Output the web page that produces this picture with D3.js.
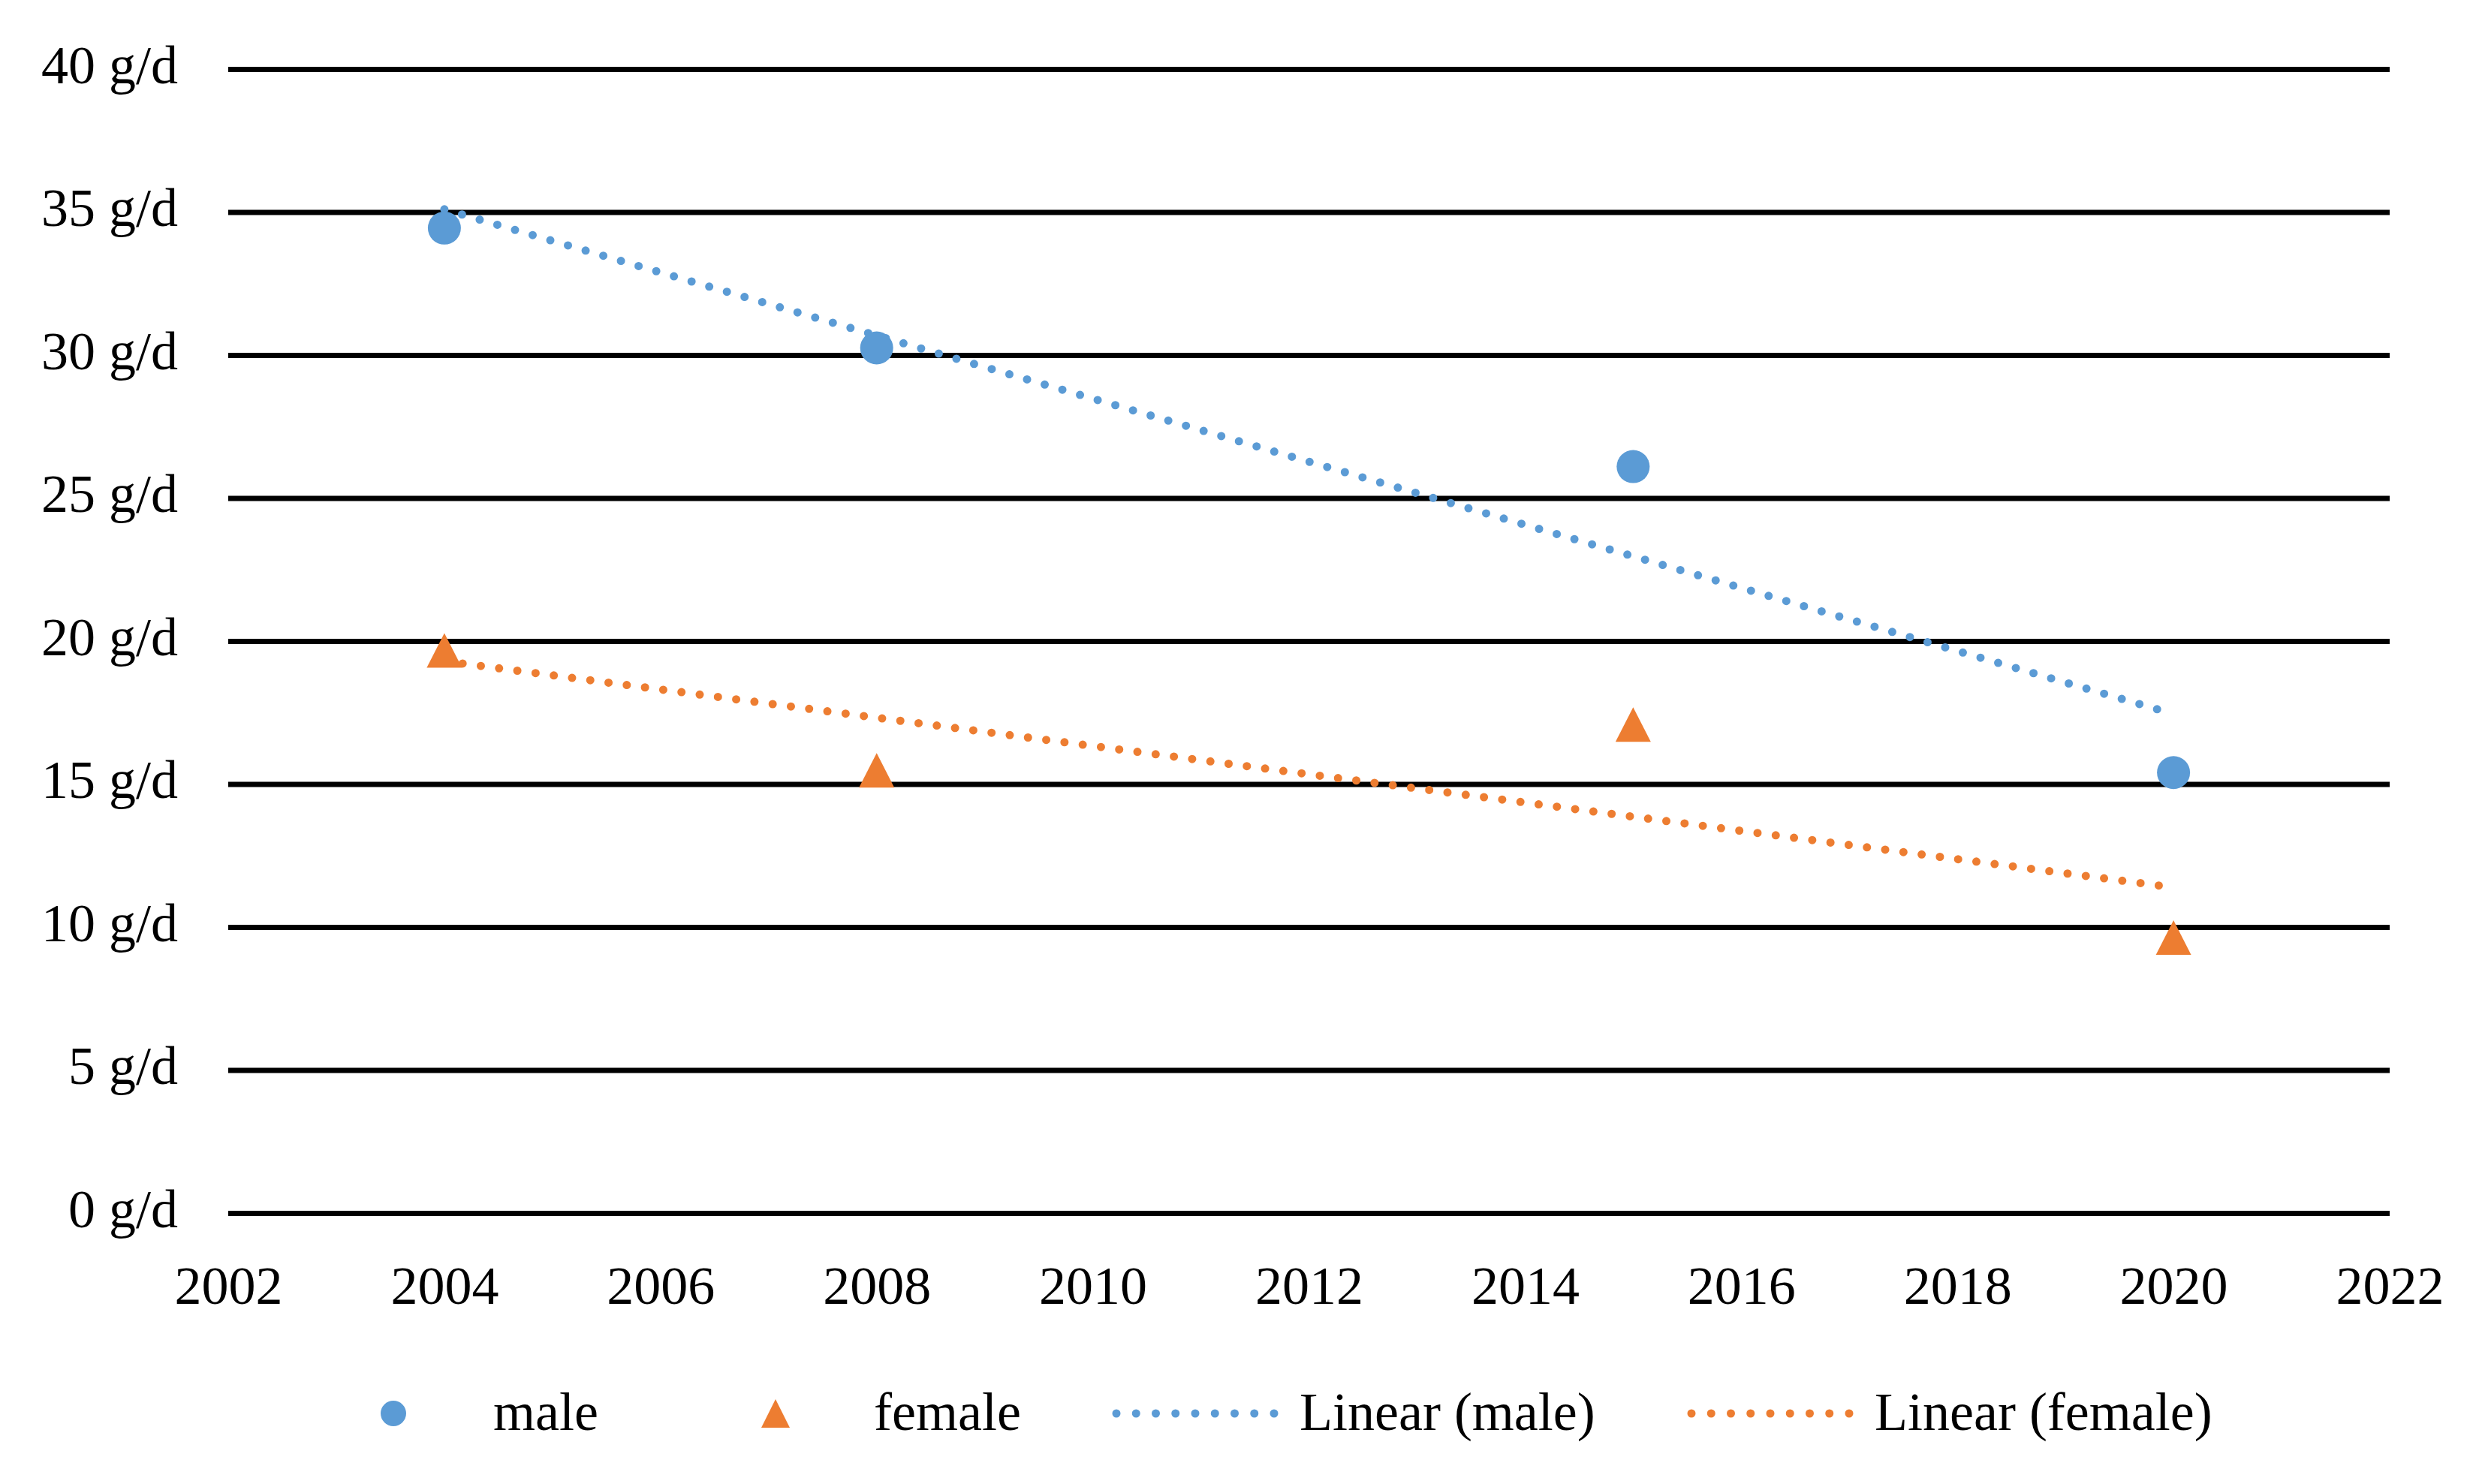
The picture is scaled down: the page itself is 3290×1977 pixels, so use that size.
<!DOCTYPE html>
<html>
<head>
<meta charset="utf-8">
<script src="https://cdn.jsdelivr.net/npm/d3@7"></script>
<style>
  html, body { margin: 0; padding: 0; background: #fff; }
  svg { display: block; }
  text { font-family: "Liberation Serif", "DejaVu Serif", serif; fill: #000; }
</style>
</head>
<body>
<svg id="chart" width="3290" height="1977"></svg>
<script>
// ---- data ----
const years = [2004, 2008, 2015, 2020];
const maleValues = [34.44, 30.25, 26.1, 15.4];
const femaleValues = [19.67, 15.48, 17.08, 9.63];
const yTicks = [0, 5, 10, 15, 20, 25, 30, 35, 40];
const xTicks = [2002, 2004, 2006, 2008, 2010, 2012, 2014, 2016, 2018, 2020, 2022];
const legendLabels = ["male", "female", "Linear (male)", "Linear (female)"];

const blue = "#5B9BD5", orange = "#ED7D31";

const svg = d3.select("#chart");
const x = d3.scaleLinear().domain([2002, 2022]).range([304, 3183]);
const y = d3.scaleLinear().domain([0, 40]).range([1616, 92]);

// gridlines + y labels
const yAxis = d3.axisLeft(y).tickValues(yTicks)
  .tickSizeInner(-(x.range()[1] - x.range()[0])).tickSizeOuter(0)
  .tickPadding(67).tickFormat(d => d + " g/d");
const gy = svg.append("g").attr("transform", `translate(${x.range()[0]},0)`).call(yAxis);
gy.select(".domain").remove();
gy.selectAll(".tick line").attr("stroke", "#000").attr("stroke-width", 7);
gy.selectAll(".tick text").style("font-size", "72px").attr("fill", "#000")
  .style("font-family", '"Liberation Serif", serif').attr("dy", "0.25em");

// x labels
const xAxis = d3.axisBottom(x).tickValues(xTicks).tickSize(0).tickPadding(70)
  .tickFormat(d3.format("d"));
const gx = svg.append("g").attr("transform", `translate(0,${y(0)})`).call(xAxis);
gx.select(".domain").remove();
gx.selectAll(".tick text").style("font-size", "72px").attr("fill", "#000")
  .style("font-family", '"Liberation Serif", serif');

// regression
function linreg(xs, ys) {
  const n = xs.length, mx = d3.mean(xs), my = d3.mean(ys);
  let sxy = 0, sxx = 0;
  for (let i = 0; i < n; i++) { sxy += (xs[i]-mx)*(ys[i]-my); sxx += (xs[i]-mx)**2; }
  const b = sxy / sxx; return t => my + b * (t - mx);
}
const fm = linreg(years, maleValues), ff = linreg(years, femaleValues);
const x0 = d3.min(years), x1 = d3.max(years);
const line = d3.line().x(d => x(d[0])).y(d => y(d[1]));

function dotted(sel, color) {
  return sel.attr("fill", "none").attr("stroke", color).attr("stroke-width", 11)
    .attr("stroke-linecap", "round").attr("stroke-dasharray", "0 24.5");
}
dotted(svg.append("path").attr("d", line([[x0, fm(x0)], [x1, fm(x1)]])), blue);
dotted(svg.append("path").attr("d", line([[x0, ff(x0)], [x1, ff(x1)]])), orange);

// markers
function tri(w, h) { return `M0,${-h/2}L${w/2},${h/2}L${-w/2},${h/2}Z`; }
svg.append("g").selectAll("circle").data(years).join("circle")
  .attr("cx", d => x(d)).attr("cy", (d, i) => y(maleValues[i])).attr("r", 22).attr("fill", blue);
svg.append("g").selectAll("path").data(years).join("path")
  .attr("transform", (d, i) => `translate(${x(d)},${y(femaleValues[i])})`)
  .attr("d", tri(47, 46)).attr("fill", orange);

// legend
const ly = 1883, lb = 1905;
const leg = svg.append("g");
leg.append("circle").attr("cx", 524).attr("cy", ly).attr("r", 17).attr("fill", blue);
leg.append("text").attr("x", 657).attr("y", lb).style("font-size", "72px").text(legendLabels[0]);
leg.append("path").attr("transform", `translate(1033,${ly})`).attr("d", tri(38, 38)).attr("fill", orange);
leg.append("text").attr("x", 1164).attr("y", lb).style("font-size", "72px").text(legendLabels[1]);
dotted(leg.append("line").attr("x1", 1487).attr("x2", 1700).attr("y1", ly).attr("y2", ly), blue)
  .attr("stroke-dasharray", "0 26.25");
leg.append("text").attr("x", 1731).attr("y", lb).style("font-size", "72px").text(legendLabels[2]);
dotted(leg.append("line").attr("x1", 2253).attr("x2", 2466).attr("y1", ly).attr("y2", ly), orange)
  .attr("stroke-dasharray", "0 26.25");
leg.append("text").attr("x", 2497).attr("y", lb).style("font-size", "72px").text(legendLabels[3]);
</script>
</body>
</html>
